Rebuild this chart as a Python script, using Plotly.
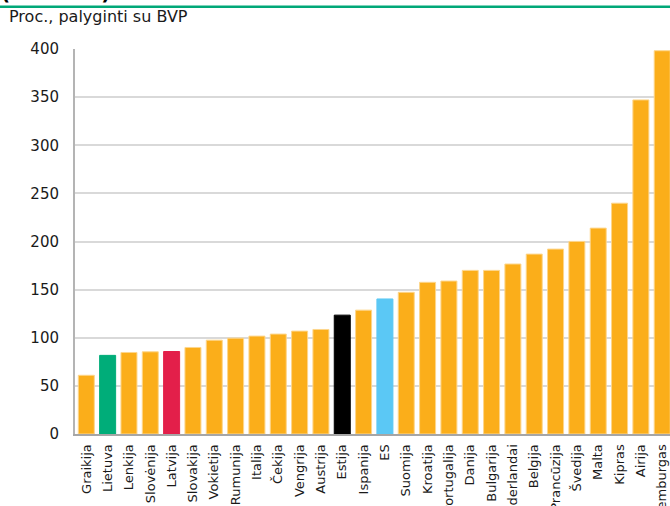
import plotly.graph_objects as go

categories = ["Graikija", "Lietuva", "Lenkija", "Slovėnija", "Latvija", "Slovakija",
              "Vokietija", "Rumunija", "Italija", "Čekija", "Vengrija", "Austrija",
              "Estija", "Ispanija", "ES", "Suomija", "Kroatija", "Portugalija",
              "Danija", "Bulgarija", "Nyderlandai", "Belgija", "Prancūzija", "Švedija",
              "Malta", "Kipras", "Airija", "Liuksemburgas"]
values = [61, 81.7, 84.7, 85.4, 85.7, 89.9, 97.5, 99.6, 101.7, 103.8, 106.9, 108.6,
          123.5, 128.7, 140.3, 147.2, 157.6, 158.9, 170.0, 170.0, 176.6, 186.9, 192.1,
          200.1, 213.9, 239.8, 347.1, 398.2]
y_ticks = [0, 50, 100, 150, 200, 250, 300, 350, 400]

ORANGE = "#FBAE1A"
special = {"Lietuva": "#00AD79", "Latvija": "#E31F4A", "Estija": "#000000", "ES": "#5BC8F5"}
colors = [special.get(c, ORANGE) for c in categories]
line_colors = ["rgba(253,214,140,1)" if c == ORANGE else c for c in colors]

W, H = 670, 506
ML, MR, MT, MB = 75, 0, 49, 72
PW, PH = W - ML - MR, H - MT - MB

def px_x(px):
    return (px - ML) / PW

def px_y(py):
    return (H - MB - py) / PH

pitch = 21.33
x0 = -0.5 - (86.3 - 10.665 - ML) / pitch
x1 = x0 + PW / pitch

fig = go.Figure(go.Bar(
    x=categories, y=values,
    marker=dict(color=colors, line=dict(color=line_colors, width=1)),
    hoverinfo="x+y",
))

fig.update_layout(
    width=W, height=H,
    margin=dict(l=ML, r=MR, t=MT, b=MB, autoexpand=False),
    paper_bgcolor="white", plot_bgcolor="white",
    bargap=0.25,
    showlegend=False,
    font=dict(family="DejaVu Sans, Verdana, sans-serif", color="#1a1a1a"),
    xaxis=dict(
        range=[x0, x1], tickangle=-90, tickfont=dict(size=13, color="#1a1a1a"),
        showline=True, linecolor="#a6a6a6", linewidth=2, showgrid=False,
        ticks="", automargin=False, ticklabelstandoff=3,
    ),
    yaxis=dict(
        range=[0, 400], tickvals=y_ticks, tickfont=dict(size=15, color="#1a1a1a"),
        showline=True, linecolor="#b4b4b4", linewidth=2,
        showgrid=True, gridcolor="#d9d9d9", gridwidth=1.5, zeroline=False,
        ticks="", automargin=False, ticklabelstandoff=11,
    ),
    shapes=[dict(type="line", xref="paper", yref="paper",
                 x0=px_x(0), x1=px_x(W), y0=px_y(6.7), y1=px_y(6.7),
                 line=dict(color="#00A878", width=2.5))],
    annotations=[
        dict(text="Proc., palyginti su BVP", xref="paper", yref="paper",
             x=px_x(7), y=px_y(17), xanchor="left", yanchor="middle",
             showarrow=False, font=dict(size=16, color="#1a1a1a")),
        dict(text="<b>(2023 m.)</b>", xref="paper", yref="paper",
             x=px_x(-1), y=px_y(7), xanchor="left", yanchor="bottom",
             showarrow=False, font=dict(size=20, color="#000000")),
    ],
)

fig.write_html("out.html", config={"displayModeBar": False},
               post_script="document.body.style.margin='0';")
